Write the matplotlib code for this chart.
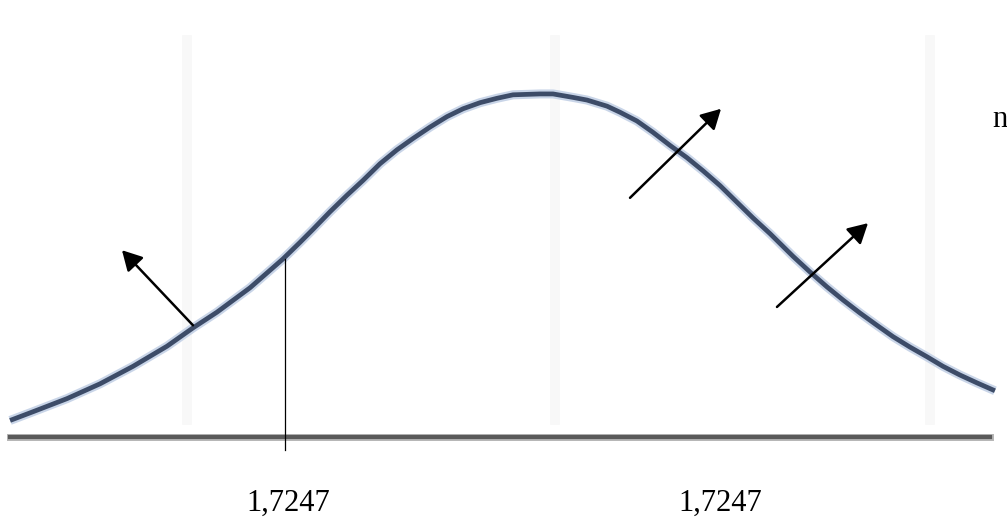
import matplotlib
matplotlib.use('Agg')
import matplotlib.pyplot as plt

serif = {'fontname': 'Liberation Serif'}

# t density curve
t_vals = [-3.711, -3.549, -3.310, -3.077, -2.845, -2.606, -2.423, -2.254, -2.021,
          -1.789, -1.669, -1.577, -1.458, -1.338, -1.225, -1.106, -0.986, -0.873,
          -0.754, -0.634, -0.521, -0.401, -0.282, -0.169, 0.021, 0.113, 0.254,
          0.352, 0.493, 0.585, 0.704, 0.817, 0.937, 1.056, 1.169, 1.289, 1.408,
          1.521, 1.641, 1.803, 1.923, 2.042, 2.155, 2.275, 2.394, 2.507, 2.627,
          2.746, 2.859, 2.979, 3.099, 3.225]
dens = [0.019, 0.029, 0.044, 0.061, 0.081, 0.104, 0.125, 0.143, 0.171,
        0.204, 0.223, 0.238, 0.258, 0.277, 0.294, 0.313, 0.329, 0.342,
        0.355, 0.367, 0.376, 0.383, 0.388, 0.392, 0.393, 0.393, 0.389,
        0.386, 0.379, 0.372, 0.362, 0.349, 0.334, 0.320, 0.305, 0.288, 0.269,
        0.251, 0.233, 0.207, 0.189, 0.172, 0.157, 0.142, 0.128, 0.115, 0.103,
        0.092, 0.081, 0.071, 0.062, 0.053]

# critical value line and labels
t_crit = -1.775
crit_top = 0.204
crit_labels = ['1,7247', '1,7247']
label_t = [-1.754, 1.289]

# arrows (tail t, tail y, head t, head y)
arrows = [(-2.423, 0.128, -2.923, 0.214),
          (0.655, 0.274, 1.296, 0.376),
          (1.690, 0.149, 2.331, 0.245)]

# faint background bands
bands_t = [-2.465, 0.127, 2.768]

fig = plt.figure(figsize=(10.07, 5.17), dpi=100)
ax = fig.add_axes([0, 0, 1, 1])
ax.set_xlim(-3.782, 3.310)
ax.set_ylim(-0.0916, 0.5006)
ax.axis('off')

for b in bands_t:
    ax.plot([b, b], [0.0195, 0.455], color='#f8f8f8', linewidth=7, zorder=0)

# baseline
ax.plot([t_vals[0], 3.19], [0, 0], color='#b5b5b5', linewidth=5, zorder=1)
ax.plot([t_vals[0], 3.19], [0, 0], color='#5a5a5a', linewidth=3, zorder=2)

# curve
ax.plot(t_vals, dens, color='#c9d5e8', linewidth=6.5, solid_capstyle='butt',
        solid_joinstyle='round', zorder=3)
ax.plot(t_vals, dens, color='#3d4c68', linewidth=3.4, solid_capstyle='butt',
        solid_joinstyle='round', zorder=4)

ax.plot([t_crit, t_crit], [-0.0149, crit_top], color='black', linewidth=0.9, zorder=5)

for x0, y0, x1, y1 in arrows:
    ax.annotate('', xy=(x1, y1), xytext=(x0, y0),
                arrowprops=dict(arrowstyle='-|>,head_length=0.6,head_width=0.33',
                                color='black', lw=1.8, shrinkA=0, shrinkB=0,
                                mutation_scale=20), zorder=6)

for lab, x in zip(crit_labels, label_t):
    ax.text(x, -0.0756, lab, ha='center', va='center', fontsize=22, **serif)

ax.text(3.204, 0.355, 'n', ha='left', va='baseline', fontsize=22, **serif)

plt.savefig('out.png', dpi=100)
